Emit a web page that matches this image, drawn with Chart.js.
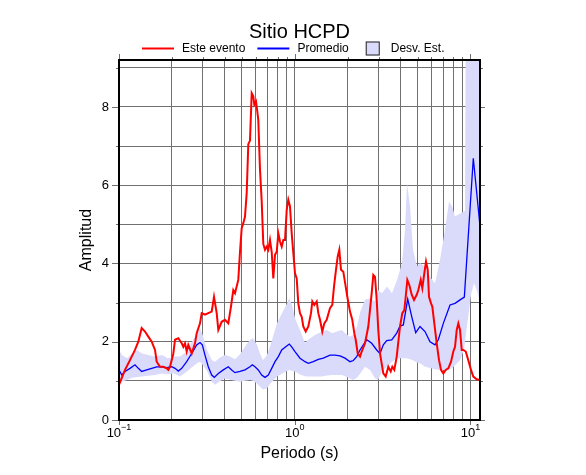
<!DOCTYPE html>
<html><head><meta charset="utf-8">
<script src="https://cdn.jsdelivr.net/npm/chart.js@4/dist/chart.umd.min.js"></script>
<style>html,body{margin:0;padding:0;background:#fff}#wrap{width:586px;height:475px}</style>
</head><body><div id="wrap"><canvas id="c" width="586" height="475"></canvas></div>
<script>
const titleText = 'Sitio HCPD';
const xTitle = 'Periodo (s)';
const yTitle = 'Amplitud';
const seriesLabels = ['Este evento', 'Promedio', 'Desv. Est.'];

const eventPeriods = [0.1,0.1082,0.1155,0.1233,0.1288,0.1346,0.1406,0.1468,0.1535,0.1603,0.1639,0.1711,0.1787,0.1868,0.1908,0.1951,0.2038,0.2084,0.2175,0.2275,0.2323,0.2375,0.2428,0.248,0.2593,0.2707,0.2768,0.2891,0.2956,0.3086,0.3222,0.337,0.3473,0.3598,0.3675,0.3841,0.4011,0.4188,0.4339,0.4471,0.4572,0.4775,0.4883,0.4993,0.5099,0.5213,0.5331,0.5444,0.5566,0.5692,0.5812,0.5889,0.6021,0.6125,0.6205,0.6345,0.6488,0.6626,0.6776,0.6928,0.7076,0.7234,0.7397,0.7554,0.7726,0.79,0.8068,0.8249,0.8435,0.8613,0.8807,0.9006,0.9196,0.9402,0.9614,1.0039,1.0266,1.0483,1.0718,1.096,1.1193,1.1551,1.1952,1.2382,1.2595,1.293,1.3342,1.3625,1.3932,1.4358,1.474,1.521,1.5882,1.6368,1.6736,1.7182,1.757,1.7942,1.8345,1.8907,1.9509,1.9925,2.064,2.1272,2.1838,2.2244,2.2834,2.3534,2.4062,2.5125,2.6235,2.7428,2.8009,2.8642,2.9288,2.9909,3.0584,3.1933,3.2958,3.41,3.5194,3.594,3.6898,3.8072,3.9755,4.0972,4.2061,4.2843,4.3751,4.4905,4.6342,4.7763,4.9489,5.053,5.2137,5.3241,5.4657,5.5891,5.7155,5.8137,5.9683,6.071,6.2313,6.431,6.628,6.8041,7.0129,7.236,7.487,7.7573,7.9949,8.1752,8.3588,8.5361,8.7288,8.9259,9.115,9.407,9.7272,10.078,10.387,10.86,11.341];
const eventAmp = [0.90,1.28,1.53,1.79,2.00,2.35,2.26,2.13,2.00,1.79,1.49,1.36,1.36,1.32,1.28,1.36,1.70,2.05,2.09,1.96,1.87,1.96,1.75,1.92,1.70,1.96,2.22,2.47,2.73,2.69,2.73,2.77,3.15,2.73,2.30,2.51,2.56,2.47,2.90,3.32,3.24,3.58,4.30,4.90,5.03,5.20,5.80,7.05,7.14,8.35,8.27,8.06,8.14,7.89,7.67,6.40,5.60,4.50,4.35,4.43,4.35,4.60,4.30,3.62,4.22,4.30,4.77,4.56,4.43,4.60,4.60,5.37,5.63,5.46,4.77,3.75,3.62,2.98,2.73,2.64,2.39,2.26,2.39,2.73,3.03,2.94,3.03,2.73,2.56,2.26,2.47,2.56,2.86,2.94,3.41,3.84,4.18,4.35,3.84,3.79,3.41,3.15,2.77,2.56,2.22,2.05,1.70,1.62,1.75,1.96,2.39,3.24,3.71,3.66,3.07,2.30,1.70,1.19,1.11,1.36,1.24,1.36,1.28,1.62,2.39,2.73,2.81,3.15,3.58,3.45,3.20,3.07,3.20,3.32,3.58,3.37,3.75,4.05,3.84,3.15,2.98,2.90,2.47,1.96,1.53,1.28,1.19,1.28,1.32,1.49,1.75,1.87,2.30,2.47,2.30,1.79,1.79,1.75,1.53,1.28,1.11,1.04,1.02];

const avgPeriods = [0.1,0.1036,0.1082,0.1155,0.1233,0.1288,0.1346,0.1438,0.1535,0.1639,0.175,0.1868,0.1995,0.2084,0.2175,0.2275,0.2428,0.2593,0.2768,0.2891,0.2979,0.3086,0.3222,0.337,0.3487,0.3675,0.3923,0.4188,0.4378,0.4572,0.4883,0.5213,0.5566,0.5737,0.5943,0.6205,0.6488,0.6776,0.7076,0.7397,0.7726,0.8068,0.8435,0.9006,0.9317,0.9614,1.0039,1.0718,1.1445,1.1952,1.2761,1.3625,1.4548,1.5882,1.6958,1.8106,1.9334,2.064,2.1554,2.2537,2.3534,2.5692,2.7428,2.9288,3.0584,3.1933,3.3393,3.5659,3.8072,3.9755,4.1513,4.3974,4.6342,4.8842,5.166,5.5163,5.8905,6.289,6.5672,7.0129,7.6561,8.1752,8.7288,9.2354,10.387,11.341];
const avgAmp = [1.28,1.15,1.24,1.32,1.41,1.32,1.24,1.28,1.32,1.36,1.36,1.34,1.36,1.32,1.25,1.32,1.49,1.70,1.92,1.98,1.92,1.66,1.36,1.15,1.09,1.19,1.28,1.36,1.28,1.21,1.24,1.28,1.36,1.41,1.36,1.28,1.15,1.09,1.15,1.32,1.49,1.62,1.79,1.89,1.94,1.87,1.75,1.58,1.49,1.45,1.49,1.55,1.58,1.66,1.66,1.64,1.58,1.49,1.52,1.62,1.79,2.05,1.96,1.79,1.70,1.92,2.03,2.05,2.22,2.40,2.43,3.09,2.64,2.23,2.39,2.26,2.00,1.92,2.05,2.47,2.94,2.98,3.07,3.14,6.69,4.95];

const stdPeriods = [0.1,0.104,0.111,0.1186,0.1266,0.1352,0.1463,0.1603,0.1757,0.19,0.2056,0.2224,0.2438,0.2603,0.2779,0.2891,0.3006,0.3168,0.3383,0.3519,0.3756,0.4011,0.4282,0.4572,0.4883,0.5213,0.5566,0.579,0.61,0.6345,0.66,0.6956,0.7234,0.7525,0.7932,0.8468,0.9041,0.9281,0.9652,1.0039,1.0718,1.1445,1.1905,1.3047,1.4302,1.527,1.6304,1.7409,1.8588,1.9334,2.064,2.1469,2.2626,2.3534,2.5125,2.6827,2.8642,2.9792,3.1395,3.3524,3.5799,3.8222,4.0812,4.245,4.358,4.532,4.7138,4.9683,5.166,5.5163,5.8905,6.289,6.7155,7.1697,7.5564,7.8598,8.1752,8.7288,9.1993,9.3207,9.4406,9.6891,10.078,10.483,10.903,11.341];
const stdUpper = [1.79,1.66,1.58,1.70,1.79,1.70,1.66,1.62,1.66,1.58,1.62,1.62,1.75,2.00,2.22,2.34,2.15,1.79,1.53,1.49,1.60,1.66,1.62,1.55,1.68,1.87,2.05,2.09,1.92,1.70,1.53,1.66,1.87,2.13,2.47,2.73,2.98,3.11,2.94,2.60,2.30,1.96,2.05,2.17,2.26,2.30,2.22,2.26,2.30,2.22,2.13,2.17,2.39,2.75,3.07,3.11,3.03,3.32,3.24,3.41,3.24,3.58,4.01,4.86,6.05,5.46,4.35,3.92,4.01,3.92,3.66,3.49,4.09,4.86,5.58,5.46,5.20,5.28,5.33,5.35,12,12,12,12,12,12];
const stdLower = [0.94,0.98,1.02,1.08,1.10,1.11,1.13,1.15,1.19,1.17,1.19,1.11,1.24,1.35,1.45,1.49,1.40,1.25,0.98,0.90,0.99,1.07,1.03,1.00,0.98,1.00,1.02,1.00,0.93,0.85,0.78,0.81,0.92,1.00,1.11,1.18,1.25,1.28,1.26,1.24,1.16,1.12,1.11,1.11,1.11,1.14,1.15,1.15,1.15,1.12,1.06,1.02,1.08,1.18,1.36,1.28,1.07,1.02,1.24,1.36,1.49,1.58,1.58,1.58,1.58,1.55,1.53,1.47,1.45,1.36,1.33,1.30,1.28,1.28,1.30,1.33,1.40,1.53,1.80,2.00,2.22,2.60,3.20,3.50,3.30,3.00];

const xTickValues = [0.1,0.2,0.3,0.4,0.5,0.6,0.7,0.8,0.9,1,2,3,4,5,6,7,8,9,10];
const xDecades = [0.1, 1, 10];
const xDecadeExp = ['\u22121', '0', '1'];
const yTickValues = [0,1,2,3,4,5,6,7,8,9];
const yTickLabels = ['0','','2','','4','','6','','8',''];

const FONT = '"Liberation Sans", Arial, Helvetica, sans-serif';
const GRID = '#707070';
const BAND = 'rgb(218,218,250)';
const toPts = (xs, ys) => xs.map((v, i) => ({x: v, y: ys[i]}));

const framePlugin = {
  id: 'frame',
  afterDraw(chart) {
    const {ctx, chartArea: a, scales: {x, y}} = chart;
    ctx.save();
    const seg = (x1, y1, x2, y2) => { ctx.beginPath(); ctx.moveTo(x1, y1); ctx.lineTo(x2, y2); ctx.stroke(); };
    ctx.strokeStyle = GRID; ctx.lineWidth = 1;
    xTickValues.forEach(v => {
      const px = Math.round(x.getPixelForValue(v)) + 0.5;
      const major = xDecades.includes(v);
      seg(px, a.top, px, a.top - (major ? 6 : 3));
      if (major) seg(px, a.bottom, px, a.bottom + 5);
    });
    yTickValues.forEach(v => {
      const py = Math.round(y.getPixelForValue(v)) + 0.5;
      const major = v % 2 === 0;
      seg(a.left, py, a.left - (major ? 7 : 3), py);
      seg(a.right, py, a.right + (major ? 5 : 3), py);
    });
    ctx.strokeStyle = '#000'; ctx.lineWidth = 2;
    ctx.strokeRect(a.left, a.top, a.right - a.left, a.bottom - a.top);

    // decade labels with superscript exponents
    ctx.fillStyle = '#000'; ctx.textBaseline = 'alphabetic'; ctx.textAlign = 'left';
    xDecades.forEach((v, i) => {
      const px = x.getPixelForValue(v);
      ctx.font = '13px ' + FONT; const w1 = ctx.measureText('10').width;
      ctx.font = '9px ' + FONT; const w2 = ctx.measureText(xDecadeExp[i]).width;
      const sx = px - (w1 + w2) / 2;
      ctx.font = '13px ' + FONT; ctx.fillText('10', sx, a.bottom + 16.5);
      ctx.font = '9px ' + FONT; ctx.fillText(xDecadeExp[i], sx + w1, a.bottom + 9.5);
    });

    // legend
    const ly = 48.5;
    let cx = 142;
    ctx.font = '12px ' + FONT; ctx.textBaseline = 'middle';
    const cols = ['#ff0000', '#0000ff'];
    for (let i = 0; i < 2; i++) {
      ctx.strokeStyle = cols[i]; ctx.lineWidth = 2;
      seg(cx, ly, cx + 32, ly);
      cx += 40;
      ctx.fillText(seriesLabels[i], cx, ly);
      cx += ctx.measureText(seriesLabels[i]).width + (i === 0 ? 12 : 17);
    }
    ctx.fillStyle = BAND; ctx.fillRect(cx, ly - 7, 14, 14);
    ctx.strokeStyle = '#222'; ctx.lineWidth = 1; ctx.strokeRect(cx + 0.5, ly - 6.5, 13, 13);
    ctx.fillStyle = '#000';
    ctx.fillText(seriesLabels[2], cx + 25, ly);
    ctx.restore();
  }
};

new Chart(document.getElementById('c'), {
  type: 'line',
  data: {
    datasets: [
      {label: seriesLabels[0], data: toPts(eventPeriods, eventAmp), borderColor: '#ff0000', borderWidth: 2, pointRadius: 0, fill: false},
      {label: seriesLabels[1], data: toPts(avgPeriods, avgAmp), borderColor: '#0000ff', borderWidth: 1.3, pointRadius: 0, fill: false},
      {label: 'lower', data: toPts(stdPeriods, stdLower), borderWidth: 0, borderColor: 'rgba(0,0,0,0)', pointRadius: 0, fill: false},
      {label: seriesLabels[2], data: toPts(stdPeriods, stdUpper), borderWidth: 0, borderColor: 'rgba(0,0,0,0)', backgroundColor: BAND, pointRadius: 0, fill: '-1'}
    ]
  },
  options: {
    responsive: false,
    animation: false,
    devicePixelRatio: 1,
    layout: {padding: {left: 0, right: 106, top: 0, bottom: 0}},
    plugins: {
      legend: {display: false},
      tooltip: {enabled: false},
      title: {display: true, text: titleText, fullSize: false, color: '#000',
        font: {family: FONT, size: 20, weight: 'normal', lineHeight: 1.2},
        padding: {top: 20.5, bottom: 15.5}}
    },
    scales: {
      x: {
        type: 'logarithmic', min: 0.1, max: 11.34,
        afterBuildTicks: s => { s.ticks = xTickValues.map(v => ({value: v, major: xDecades.includes(v)})); },
        afterFit: s => { s.height = 55; },
        ticks: {callback: () => '', autoSkip: false, maxRotation: 0, font: {family: FONT, size: 13}},
        grid: {color: GRID, lineWidth: 1, drawTicks: false},
        border: {display: false},
        title: {display: true, text: xTitle, color: '#000', font: {family: FONT, size: 16}, padding: {top: 0, bottom: 11.5}}
      },
      y: {
        type: 'linear', min: 0, max: 9.2,
        afterBuildTicks: s => { s.ticks = yTickValues.map(v => ({value: v})); },
        afterFit: s => { s.width = 119; },
        ticks: {callback: (v, i) => yTickLabels[i], autoSkip: false, padding: 10, color: '#000', font: {family: FONT, size: 13}},
        grid: {color: GRID, lineWidth: 1, drawTicks: false},
        border: {display: false},
        title: {display: true, text: yTitle, color: '#000', font: {family: FONT, size: 16}, padding: {top: 76.5, bottom: 0}}
      }
    }
  },
  plugins: [framePlugin]
});
</script></body></html>
